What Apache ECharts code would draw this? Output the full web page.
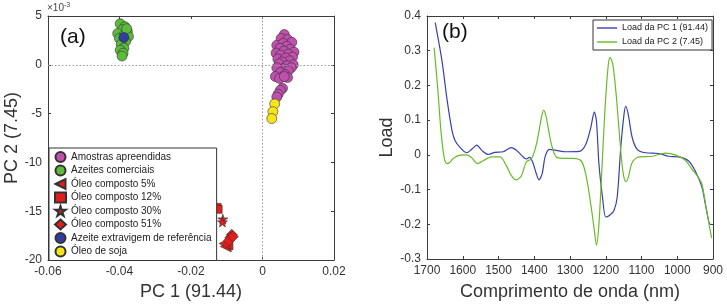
<!DOCTYPE html>
<html>
<head>
<meta charset="utf-8">
<script src="https://cdn.jsdelivr.net/npm/echarts@6/dist/echarts.min.js"></script>
<style>
  html, body { margin: 0; padding: 0; background: #fff; }
  #main { width: 727px; height: 306px; }
</style>
</head>
<body>
<div id="main"></div>
<script>
// scores: [PC1, PC2 (x10^-3)]
var amostras = [[0.0061,3.1],[0.0052,2.7],[0.0070,2.6],[0.0082,2.3],[0.0040,2.0],[0.0058,2.2],[0.0068,1.9],[0.0049,1.7],
  [0.0078,1.6],[0.0088,1.3],[0.0060,1.4],[0.0038,1.2],[0.0072,1.1],[0.0050,1.0],[0.0084,0.8],[0.0043,0.6],[0.0065,0.7],
  [0.0076,0.4],[0.0055,0.3],[0.0086,0.0],[0.0047,0.1],[0.0068,-0.1],[0.0080,-0.3],[0.0058,-0.4],[0.0040,-0.3],[0.0072,-0.6],
  [0.0050,-0.8],[0.0063,-1.0],[0.0036,-1.2],[0.0070,-1.3],[0.0048,-1.4],[0.0061,-1.2],[0.0056,-2.4],[0.0050,-2.6],
  [0.0044,-3.0],[0.0040,-3.3]];
var comerciais = [[-0.0398,4.2],[-0.0385,3.9],[-0.0392,3.6],[-0.0378,3.4],[-0.0405,3.2],[-0.0388,3.0],[-0.0375,2.9],
  [-0.0400,2.7],[-0.0383,2.4],[-0.0395,2.1],[-0.0388,1.7],[-0.0398,1.5],[-0.0390,1.2],[-0.0393,0.9],[-0.0380,3.7]];
var oleo5 = [[-0.0103,-18.6],[-0.0098,-18.4],[-0.0106,-18.3]];
var oleo12 = [[-0.0127,-14.6],[-0.0124,-14.8]];
var oleo30 = [[-0.0111,-15.8],[-0.0112,-16.1]];
var oleo51 = [[-0.0086,-17.4],[-0.0090,-17.7],[-0.0094,-18.0],[-0.0083,-17.6]];
var referencia = [[-0.0388,2.8]];
var soja = [[0.0034,-4.0],[0.0029,-4.8],[0.0026,-5.5]];

// loadings
var wl1 = [1677,1658,1644,1630,1621,1607,1589,1575,1561,1547,1529,1510,1487,1464,1450,1431,1422,1413,1404,1394,1387,1378,
  1369,1357,1339,1311,1274,1256,1242,1232,1226,1219,1209,1200,1189,1177,1168,1158,1149,1144,1137,1126,1112,1089,1052,
  1024,996,969,950,931,918,908,904];
var load1 = [0.381,0.27,0.16,0.07,0.04,0.021,0.006,0.016,0.028,0.013,0.001,0.007,0.009,0.021,0.013,-0.006,-0.012,-0.007,
  -0.022,-0.055,-0.072,-0.055,-0.003,0.016,0.013,0.009,0.010,0.03,0.078,0.123,0.097,-0.027,-0.122,-0.179,-0.174,-0.16,
  -0.122,0.021,0.116,0.14,0.116,0.05,0.016,0.006,0.004,-0.004,-0.006,-0.017,-0.046,-0.093,-0.16,-0.2,-0.2];
var wl2 = [1680,1670,1661,1652,1644,1637,1626,1607,1589,1575,1559,1543,1519,1496,1478,1464,1450,1436,1422,1408,1394,1380,
  1374,1367,1353,1339,1320,1293,1269,1256,1242,1232,1226,1219,1211,1202,1193,1188,1180,1170,1158,1151,1144,1137,1126,
  1107,1070,1033,1006,978,959,941,931,918,904];
var load2 = [0.309,0.192,0.069,-0.008,-0.025,-0.022,-0.010,-0.001,0,-0.008,-0.025,-0.017,-0.006,-0.006,-0.031,-0.06,-0.072,
  -0.06,-0.02,-0.012,0.03,0.107,0.129,0.111,0.035,-0.006,-0.01,-0.01,-0.017,-0.055,-0.141,-0.217,-0.26,-0.198,-0.046,0.135,
  0.259,0.281,0.259,0.164,0.011,-0.055,-0.077,-0.065,-0.022,-0.006,-0.004,0.005,0,-0.015,-0.041,-0.065,-0.084,-0.16,-0.24];

function pairs(xs, ys) { return xs.map(function (x, i) { return [x, ys[i]]; }); }

var FONT = 'Liberation Sans';
var axisCol = '#3c3c3c';
var starPath = 'path://M50,0 L61,35 L98,35 L68,57 L79,91 L50,70 L21,91 L32,57 L2,35 L39,35 Z';
var leftTri = 'path://M0,50 L100,0 L100,100 Z';
var edge = { borderColor: '#333', borderWidth: 0.6 };

function boxAxis(grid, pos, min, max, interval, show, extra) {
  var a = {
    gridIndex: grid, type: 'value', position: pos, min: min, max: max, interval: interval,
    axisLine: { show: true, onZero: false, lineStyle: { color: axisCol, width: 1 } },
    axisTick: { show: true, inside: true, length: 3, lineStyle: { color: axisCol } },
    axisLabel: { show: show, color: '#333', fontSize: 12, fontFamily: FONT, margin: 6,
      formatter: function (v) { return String(+v.toFixed(6)); } },
    splitLine: { show: false }
  };
  return Object.assign(a, extra || {});
}

function scat(name, data, symbol, color, size, rot) {
  return {
    name: name, type: 'scatter', xAxisIndex: 0, yAxisIndex: 0, data: data, symbol: symbol,
    symbolSize: size, symbolRotate: rot || 0, z: 3,
    itemStyle: Object.assign({ color: color, opacity: 1 }, edge)
  };
}

var option = {
  animation: false,
  textStyle: { fontFamily: FONT },
  grid: [
    { left: 48, top: 16, width: 286, height: 246 },
    { left: 427, top: 16, width: 286, height: 245 }
  ],
  xAxis: [
    boxAxis(0, 'bottom', -0.06, 0.02, 0.02, true, {
      name: 'PC 1 (91.44)', nameLocation: 'middle', nameGap: 22,
      nameTextStyle: { fontSize: 18, color: '#333', fontFamily: FONT }
    }),
    boxAxis(0, 'top', -0.06, 0.02, 0.02, false),
    boxAxis(1, 'bottom', 900, 1700, 100, true, {
      inverse: true, name: 'Comprimento de onda (nm)', nameLocation: 'middle', nameGap: 24,
      nameTextStyle: { fontSize: 18, color: '#333', fontFamily: FONT }
    }),
    boxAxis(1, 'top', 900, 1700, 100, false, { inverse: true })
  ],
  yAxis: [
    boxAxis(0, 'left', -20, 5, 5, true, {
      name: 'PC 2 (7.45)', nameLocation: 'middle', nameGap: 22,
      nameTextStyle: { fontSize: 18, color: '#333', fontFamily: FONT }
    }),
    boxAxis(0, 'right', -20, 5, 5, false),
    boxAxis(1, 'left', -0.3, 0.4, 0.1, true, {
      name: 'Load', nameLocation: 'middle', nameGap: 21,
      nameTextStyle: { fontSize: 18, color: '#333', fontFamily: FONT }
    }),
    boxAxis(1, 'right', -0.3, 0.4, 0.1, false)
  ],
  legend: [
    {
      orient: 'vertical', left: 49, top: 148, itemWidth: 11, itemHeight: 10, itemGap: 1.5,
      padding: [3, 5, 3, 5], borderColor: '#333', borderWidth: 1, backgroundColor: '#fff',
      textStyle: { fontSize: 10, lineHeight: 10, color: '#222', fontFamily: FONT },
      data: ['Amostras apreendidas', 'Azeites comerciais',
        { name: 'Óleo composto 5%', icon: leftTri },
        'Óleo composto 12%',
        { name: 'Óleo composto 30%', icon: starPath },
        'Óleo composto 51%', 'Azeite extravigem de referência', 'Óleo de soja']
    },
    {
      orient: 'vertical', left: 593, top: 20, itemWidth: 20, itemHeight: 1.4, itemGap: 4,
      icon: 'rect', padding: [3, 4, 3, 4], borderColor: '#333', borderWidth: 1, backgroundColor: '#fff',
      textStyle: { fontSize: 9, lineHeight: 10, color: '#222', fontFamily: FONT },
      data: ['Load da PC 1 (91.44)', 'Load da PC 2 (7.45)']
    }
  ],
  graphic: [
    { type: 'text', left: 60, top: 27, style: { text: '(a)', fontSize: 21, fill: '#111', fontFamily: FONT } },
    { type: 'text', left: 442, top: 22, style: { text: '(b)', fontSize: 21, fill: '#111', fontFamily: FONT } },
    {
      type: 'text', left: 47, top: 2,
      style: {
        text: '{a|×10}{b|-3}', fontFamily: FONT,
        rich: { a: { fontSize: 10, fill: '#444' }, b: { fontSize: 7, fill: '#444', verticalAlign: 'top', padding: [0, 0, 6, 0] } }
      }
    }
  ],
  series: [
    {
      name: 'zero', type: 'scatter', xAxisIndex: 0, yAxisIndex: 0, data: [], z: 1,
      markLine: {
        silent: true, symbol: 'none', label: { show: false },
        lineStyle: { color: '#9a9a9a', type: [1.5, 2], width: 1 },
        data: [{ xAxis: 0 }, { yAxis: 0 }]
      }
    },
    scat('Amostras apreendidas', amostras, 'circle', '#c14fae', 10),
    scat('Azeites comerciais', comerciais, 'circle', '#5dbb3c', 10),
    scat('Óleo composto 5%', oleo5, leftTri, '#e41c1c', 11),
    scat('Óleo composto 12%', oleo12, 'rect', '#e41c1c', 8),
    scat('Óleo composto 30%', oleo30, starPath, '#e41c1c', 10),
    scat('Óleo composto 51%', oleo51, 'diamond', '#e41c1c', 11),
    scat('Azeite extravigem de referência', referencia, 'circle', '#2f3f9e', 10),
    scat('Óleo de soja', soja, 'circle', '#f7e51a', 10),
    {
      name: 'Load da PC 1 (91.44)', type: 'line', xAxisIndex: 2, yAxisIndex: 2,
      data: pairs(wl1, load1), smooth: 0.3, showSymbol: false, symbol: 'none',
      lineStyle: { color: '#3a3fae', width: 1.2 }, itemStyle: { color: '#3a3fae' }
    },
    {
      name: 'Load da PC 2 (7.45)', type: 'line', xAxisIndex: 2, yAxisIndex: 2,
      data: pairs(wl2, load2), smooth: 0.3, showSymbol: false, symbol: 'none',
      lineStyle: { color: '#69bb26', width: 1.2 }, itemStyle: { color: '#69bb26' }
    }
  ]
};

echarts.init(document.getElementById('main')).setOption(option);
</script>
</body>
</html>
